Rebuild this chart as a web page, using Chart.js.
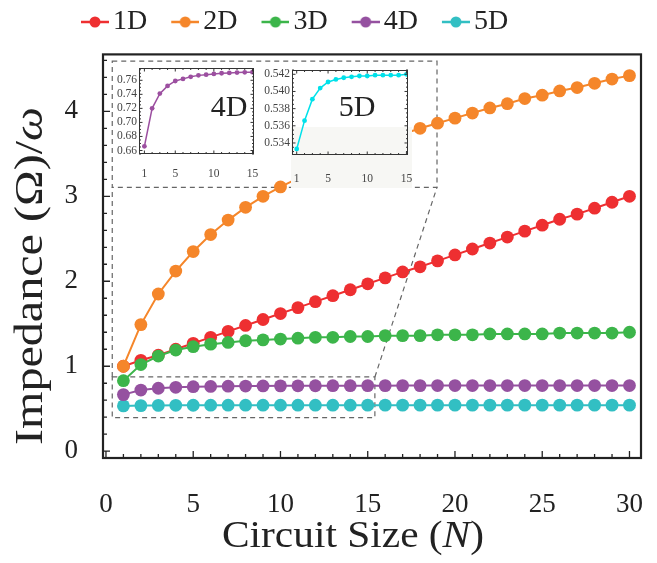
<!DOCTYPE html>
<html>
<head>
<meta charset="utf-8">
<script src="https://cdn.jsdelivr.net/npm/chart.js@4.4.1/dist/chart.umd.min.js"></script>
<style>
  html, body { margin: 0; padding: 0; background: #fff; }
  #wrap { position: relative; width: 657px; height: 563px; }
  canvas { position: absolute; }
  #main { left: 0; top: 0; width: 657px; height: 563px; }
  #inset4 { left: 112px; top: 60px; width: 148px; height: 126px; }
  #inset5 { left: 260px; top: 62px; width: 155px; height: 126px; }
</style>
</head>
<body>
<div id="wrap">
  <canvas id="main" width="657" height="563"></canvas>
  <canvas id="inset4" width="148" height="126"></canvas>
  <canvas id="inset5" width="155" height="126"></canvas>
</div>
<script>
// data
const circuitSize = [1, 2, 3, 4, 5, 6, 7, 8, 9, 10, 11, 12, 13, 14, 15, 16, 17, 18, 19, 20, 21, 22, 23, 24, 25, 26, 27, 28, 29, 30];
const imp1D = [1.00, 1.07, 1.13, 1.20, 1.27, 1.34, 1.41, 1.48, 1.55, 1.62, 1.69, 1.76, 1.83, 1.90, 1.97, 2.04, 2.11, 2.17, 2.24, 2.31, 2.38, 2.45, 2.52, 2.59, 2.66, 2.73, 2.79, 2.86, 2.93, 3.00];
const imp2D = [1.00, 1.49, 1.85, 2.12, 2.35, 2.55, 2.72, 2.87, 3.00, 3.11, 3.21, 3.31, 3.40, 3.49, 3.57, 3.65, 3.73, 3.80, 3.86, 3.92, 3.98, 4.04, 4.09, 4.15, 4.19, 4.24, 4.28, 4.33, 4.38, 4.42];
const imp3D = [0.83, 1.02, 1.12, 1.19, 1.23, 1.26, 1.28, 1.30, 1.31, 1.32, 1.33, 1.34, 1.34, 1.35, 1.35, 1.36, 1.36, 1.36, 1.37, 1.37, 1.37, 1.38, 1.38, 1.38, 1.38, 1.39, 1.39, 1.39, 1.39, 1.40];
const imp4D = [0.666, 0.720, 0.741, 0.752, 0.759, 0.762, 0.765, 0.767, 0.768, 0.769, 0.770, 0.7705, 0.771, 0.7713, 0.7715, 0.7717, 0.7718, 0.7720, 0.7721, 0.7722, 0.7723, 0.7724, 0.7724, 0.7725, 0.7725, 0.7726, 0.7726, 0.7727, 0.7727, 0.7727];
const imp5D = [0.5333, 0.5366, 0.5391, 0.5404, 0.5411, 0.5414, 0.5416, 0.5417, 0.5418, 0.5418, 0.5419, 0.5419, 0.5419, 0.5419, 0.5420, 0.5420, 0.5420, 0.5420, 0.5420, 0.5420, 0.5420, 0.5420, 0.5420, 0.5420, 0.5420, 0.5420, 0.5420, 0.5420, 0.5420, 0.5420];

const seriesNames = ['1D', '2D', '3D', '4D', '5D'];
const seriesColors = ['#ee2f31', '#f5862a', '#3cb54a', '#9551a0', '#32bfc3'];
const drawOrder = [2, 0, 1, 3, 4];

const xTickVals = [0, 5, 10, 15, 20, 25, 30];
const yTickVals = [0, 1, 2, 3, 4];
const insetXTicks = [1, 5, 10, 15];
const inset4DTicks = [0.66, 0.68, 0.70, 0.72, 0.74, 0.76];
const inset5DTicks = [0.534, 0.536, 0.538, 0.540, 0.542];
const insetSize = circuitSize.slice(0, 15);

// zoom box and inset frame, in data units of the main axes
const zoomRegion = {x0: 0.36, x1: 15.41, y0: 0.396, y1: 0.874};
const insetRegion = {x0: 0.36, x1: 18.97, y0: 3.106, y1: 4.59};

const SERIF = "'Liberation Serif', 'DejaVu Serif', serif";
const INK = '#222';

function pairs(xs, ys) {
    return xs.map((x, i) => ({x: x, y: ys[i]}));
}

// legend marker: short line with a dot, offset so the text sits close
function legendIcon(color) {
    const c = document.createElement('canvas');
    c.width = 54; c.height = 16;
    const g = c.getContext('2d');
    g.strokeStyle = color; g.lineWidth = 2.5;
    g.beginPath(); g.moveTo(26, 8); g.lineTo(54, 8); g.stroke();
    g.fillStyle = color;
    g.beginPath(); g.arc(40, 8, 5.5, 0, Math.PI * 2); g.fill();
    return c;
}
const legendIcons = seriesColors.map(legendIcon);

// mixed upright/italic text, stretched to a target width
function drawRich(ctx, parts, cx, by, size, targetW) {
    let total = 0;
    parts.forEach(p => {
        ctx.font = p[1] + size + 'px ' + SERIF;
        p.w = ctx.measureText(p[0]).width;
        total += p.w;
    });
    ctx.save();
    ctx.translate(cx, by);
    ctx.scale(targetW / total, 1);
    let x = -total / 2;
    ctx.textAlign = 'left';
    ctx.textBaseline = 'alphabetic';
    parts.forEach(p => {
        ctx.font = p[1] + size + 'px ' + SERIF;
        ctx.fillText(p[0], x, 0);
        x += p.w;
    });
    ctx.restore();
}

function noPadX(s, h) { s.height = h; s.paddingLeft = 0; s.paddingRight = 0; }
function noPadY(s, w) { s.width = w; s.paddingTop = 0; s.paddingBottom = 0; }

const frameTicks = {
    id: 'frameTicks',
    afterDraw(chart) {
        const {ctx, chartArea: a, scales: {x, y}} = chart;
        ctx.save();
        ctx.strokeStyle = INK;
        ctx.lineWidth = 1.3;
        ctx.beginPath();
        for (let k = 0; k <= 30; k++) {
            const px = x.getPixelForValue(k);
            const len = k % 5 === 0 ? 7 : 4;
            ctx.moveTo(px, a.bottom); ctx.lineTo(px, a.bottom - len);
        }
        for (let k = 0; k <= 23; k++) {
            const py = y.getPixelForValue(k * 0.2);
            const len = k % 5 === 0 ? 7 : 4;
            ctx.moveTo(a.left, py); ctx.lineTo(a.left + len, py);
        }
        ctx.stroke();
        ctx.lineWidth = 2.2;
        ctx.strokeRect(a.left, a.top, a.right - a.left, a.bottom - a.top);
        ctx.restore();
    }
};

const zoomBoxes = {
    id: 'zoomBoxes',
    beforeDatasetsDraw(chart) {
        const {ctx, scales: {x, y}} = chart;
        const X = v => x.getPixelForValue(v), Y = v => y.getPixelForValue(v);
        ctx.save();
        ctx.strokeStyle = '#666';
        ctx.lineWidth = 1.2;
        ctx.setLineDash([5, 4]);
        [zoomRegion, insetRegion].forEach(r => {
            ctx.strokeRect(X(r.x0), Y(r.y1), X(r.x1) - X(r.x0), Y(r.y0) - Y(r.y1));
        });
        ctx.beginPath();
        ctx.moveTo(X(zoomRegion.x0), Y(zoomRegion.y1)); ctx.lineTo(X(insetRegion.x0), Y(insetRegion.y0));
        ctx.moveTo(X(zoomRegion.x1), Y(zoomRegion.y1)); ctx.lineTo(X(insetRegion.x1), Y(insetRegion.y0));
        ctx.stroke();
        ctx.restore();
    }
};

const axisTitles = {
    id: 'axisTitles',
    afterDraw(chart) {
        const ctx = chart.ctx;
        ctx.save();
        ctx.fillStyle = INK;
        drawRich(ctx, [['Circuit Size (', ''], ['N', 'italic '], [')', '']], 353, 547, 38, 262);
        ctx.translate(0, 276);
        ctx.rotate(-Math.PI / 2);
        drawRich(ctx, [['Impedance (\u03A9)/', ''], ['\u03C9', 'italic ']], 0, 42, 41, 338);
        ctx.restore();
    }
};

const allSeries = [imp1D, imp2D, imp3D, imp4D, imp5D];

new Chart(document.getElementById('main'), {
    type: 'line',
    data: {
        datasets: allSeries.map((vals, i) => ({
            label: seriesNames[i],
            data: pairs(circuitSize, vals),
            borderColor: seriesColors[i],
            backgroundColor: seriesColors[i],
            pointBackgroundColor: seriesColors[i],
            borderWidth: 2,
            pointRadius: 6.4,
            pointBorderWidth: 0,
            tension: 0,
            order: drawOrder[i]
        }))
    },
    options: {
        responsive: false,
        animation: false,
        devicePixelRatio: 1,
        layout: {padding: {left: 57, right: 16, top: 0, bottom: 0}},
        plugins: {
            tooltip: {enabled: false},
            title: {display: true, text: ' ', weight: 500, font: {size: 2}, padding: {top: 3, bottom: 3}},
            legend: {
                position: 'top',
                align: 'start',
                labels: {
                    font: {family: SERIF, size: 28},
                    color: INK,
                    padding: 8,
                    usePointStyle: true,
                    pointStyleWidth: 34,
                    generateLabels(chart) {
                        const items = Chart.defaults.plugins.legend.labels.generateLabels(chart);
                        items.sort((a, b) => a.datasetIndex - b.datasetIndex);
                        items.forEach(it => {
                            it.pointStyle = legendIcons[it.datasetIndex];
                            it.fontColor = INK;
                        });
                        return items;
                    }
                }
            }
        },
        scales: {
            x: {
                type: 'linear',
                min: -0.17,
                max: 30.66,
                afterBuildTicks: s => { s.ticks = xTickVals.map(v => ({value: v})); },
                afterFit: s => noPadX(s, 105),
                grid: {display: false, drawTicks: false},
                border: {display: false},
                ticks: {font: {family: SERIF, size: 27}, color: INK, padding: 31, autoSkip: false, maxRotation: 0}
            },
            y: {
                type: 'linear',
                min: -0.08,
                max: 4.67,
                afterBuildTicks: s => { s.ticks = yTickVals.map(v => ({value: v})); },
                afterFit: s => noPadY(s, 46),
                grid: {display: false, drawTicks: false},
                border: {display: false},
                ticks: {font: {family: SERIF, size: 27}, color: INK, padding: 25, autoSkip: false}
            }
        }
    },
    plugins: [zoomBoxes, frameTicks, axisTitles]
});

function insetChart(id, vals, color, cfg) {
    const insetDecor = {
        id: 'insetDecor',
        beforeDraw(chart) {
            const {ctx, chartArea: a} = chart;
            ctx.save();
            ctx.fillStyle = '#fff';
            ctx.fillRect(a.left, a.top, a.right - a.left, a.bottom - a.top);
            if (cfg.panel) {
                ctx.fillStyle = '#f7f7f4';
                ctx.fillRect(cfg.panel[0], cfg.panel[1], cfg.panel[2], cfg.panel[3]);
            }
            ctx.restore();
        },
        afterDraw(chart) {
            const {ctx, chartArea: a, scales: {x, y}} = chart;
            ctx.save();
            ctx.strokeStyle = '#333';
            ctx.lineWidth = 1;
            ctx.beginPath();
            for (let k = 1; k <= 15; k++) {
                const px = x.getPixelForValue(k);
                const len = insetXTicks.includes(k) ? 3.5 : 2;
                ctx.moveTo(px, a.bottom); ctx.lineTo(px, a.bottom - len);
                ctx.moveTo(px, a.top); ctx.lineTo(px, a.top + len);
            }
            const k0 = Math.ceil(cfg.yMin / cfg.minor), k1 = Math.floor(cfg.yMax / cfg.minor);
            for (let k = k0; k <= k1; k++) {
                const v = k * cfg.minor;
                const py = y.getPixelForValue(v);
                const r = v / cfg.major;
                const len = Math.abs(r - Math.round(r)) < 1e-6 ? 3.5 : 2;
                ctx.moveTo(a.left, py); ctx.lineTo(a.left + len, py);
                ctx.moveTo(a.right, py); ctx.lineTo(a.right - len, py);
            }
            ctx.stroke();
            ctx.strokeRect(a.left + 0.5, a.top + 0.5, a.right - a.left - 1, a.bottom - a.top - 1);
            ctx.fillStyle = INK;
            ctx.font = '30px ' + SERIF;
            ctx.textAlign = 'center';
            ctx.textBaseline = 'middle';
            ctx.fillText(cfg.label, cfg.labelPos[0], cfg.labelPos[1]);
            ctx.restore();
        }
    };
    return new Chart(document.getElementById(id), {
        type: 'line',
        data: {
            datasets: [{
                data: pairs(insetSize, vals),
                borderColor: color,
                backgroundColor: color,
                borderWidth: 1.5,
                pointRadius: 2.4,
                pointBorderWidth: 0,
                tension: 0
            }]
        },
        options: {
            responsive: false,
            animation: false,
            devicePixelRatio: 1,
            layout: {padding: {left: 0, right: cfg.padRight, top: 8, bottom: 0}},
            plugins: {legend: {display: false}, tooltip: {enabled: false}},
            scales: {
                x: {
                    type: 'linear',
                    min: cfg.xMin,
                    max: 15.2,
                    afterBuildTicks: s => { s.ticks = insetXTicks.map(v => ({value: v})); },
                    afterFit: s => noPadX(s, cfg.xHeight),
                    grid: {display: false, drawTicks: false},
                    border: {display: false},
                    ticks: {font: {family: SERIF, size: 11.5}, color: '#444', padding: cfg.xPad, autoSkip: false, maxRotation: 0}
                },
                y: {
                    type: 'linear',
                    min: cfg.yMin,
                    max: cfg.yMax,
                    afterBuildTicks: s => { s.ticks = cfg.yTicks.map(v => ({value: v})); },
                    afterFit: s => noPadY(s, cfg.yWidth),
                    grid: {display: false, drawTicks: false},
                    border: {display: false},
                    ticks: {font: {family: SERIF, size: 11.5}, color: '#444', padding: 2, autoSkip: false,
                        callback: v => v.toFixed(cfg.yDigits)}
                }
            }
        },
        plugins: [insetDecor]
    });
}

insetChart('inset4', imp4D.slice(0, 15), '#9c4fa0', {
    xMin: 0.3, yMin: 0.655, yMax: 0.7775, yTicks: inset4DTicks, yDigits: 2,
    major: 0.02, minor: 0.005, yWidth: 27, xHeight: 32, padRight: 6, xPad: 13,
    label: '4D', labelPos: [117, 48]
});

insetChart('inset5', imp5D.slice(0, 15), '#00e1ea', {
    xMin: 0.4, yMin: 0.5326, yMax: 0.5425, yTicks: inset5DTicks, yDigits: 3,
    major: 0.002, minor: 0.0005, yWidth: 32, xHeight: 33, padRight: 7, xPad: 17,
    label: '5D', labelPos: [97, 46], panel: [31, 65, 121, 61]
});
</script>
</body>
</html>
